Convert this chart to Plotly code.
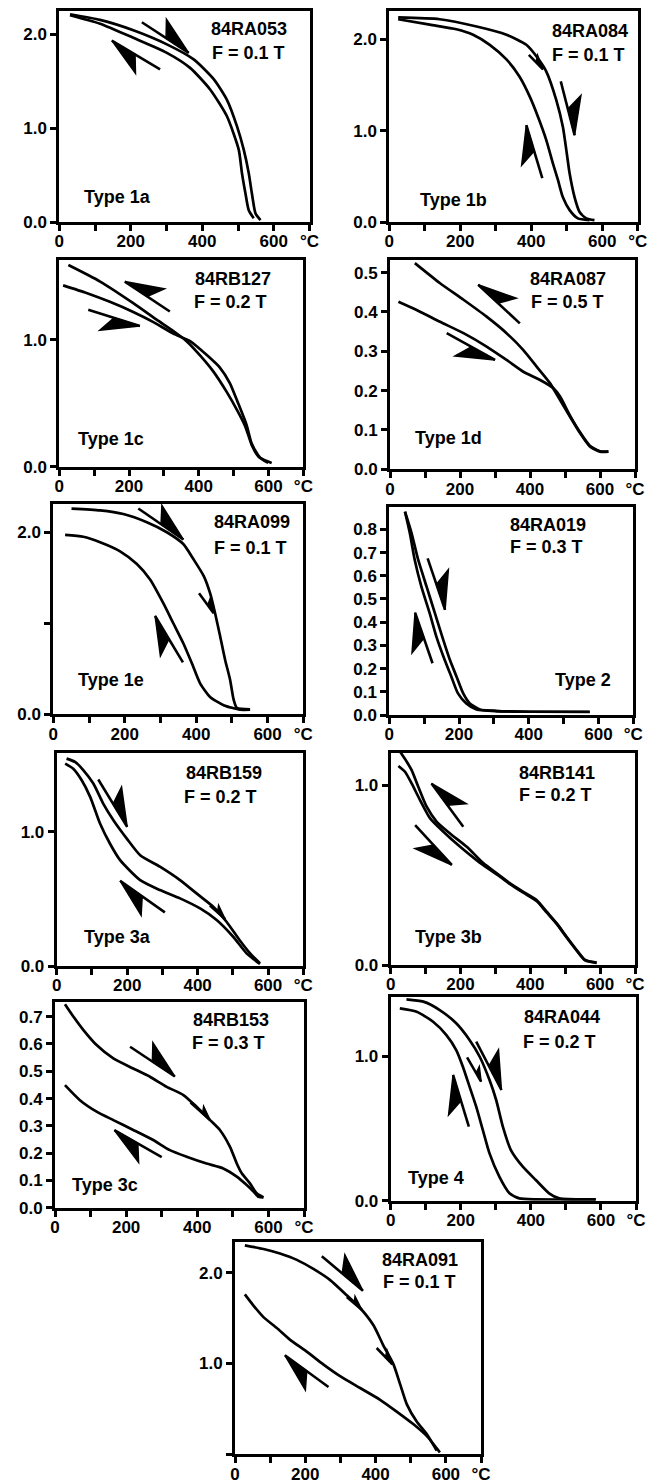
import math
import plotly.graph_objects as go

# ---------------- data (temperature in °C, magnetisation, arbitrary units) ----------------
# Panel 1: 84RA053, F = 0.1 T, Type 1a
p1_heat_T = [30, 114, 207, 301, 376, 432, 469, 497, 516, 530, 539, 549, 563]
p1_heat_M = [2.21, 2.15, 2.04, 1.89, 1.73, 1.52, 1.30, 1.02, 0.77, 0.52, 0.30, 0.09, 0.02]
p1_cool_T = [30, 114, 207, 301, 366, 422, 469, 502, 511, 521, 530, 544]
p1_cool_M = [2.20, 2.11, 1.96, 1.80, 1.64, 1.41, 1.125, 0.77, 0.52, 0.30, 0.125, 0.04]

# Panel 2: 84RA084, F = 0.1 T, Type 1b
p2_heat_T = [25, 142, 246, 330, 386, 419, 442, 470, 489, 500, 508, 522, 536, 555, 578]
p2_heat_M = [2.24, 2.22, 2.14, 2.05, 1.94, 1.79, 1.65, 1.34, 1.04, 0.75, 0.53, 0.27, 0.11, 0.04, 0.02]
p2_cool_T = [25, 114, 189, 236, 283, 330, 367, 396, 419, 442, 461, 475, 489, 508, 531, 564]
p2_cool_M = [2.22, 2.16, 2.11, 2.05, 1.94, 1.78, 1.59, 1.37, 1.15, 0.90, 0.64, 0.46, 0.27, 0.13, 0.04, 0.02]

# Panel 3: 84RB127, F = 0.2 T, Type 1c
p3_heat_T = [11, 78, 145, 212, 270, 327, 375, 423, 461, 489, 513, 537, 552, 576, 609]
p3_heat_M = [1.43, 1.37, 1.30, 1.22, 1.14, 1.05, 0.99, 0.88, 0.78, 0.66, 0.50, 0.33, 0.18, 0.07, 0.03]
p3_cool_T = [26, 117, 212, 279, 327, 365, 403, 442, 480, 509, 533, 552, 571, 599]
p3_cool_M = [1.59, 1.46, 1.29, 1.16, 1.07, 0.99, 0.88, 0.75, 0.59, 0.45, 0.32, 0.17, 0.08, 0.03]

# Panel 4: 84RA087, F = 0.5 T, Type 1d
p4_heat_T = [24, 76, 143, 210, 276, 333, 381, 429, 467, 486, 514, 543, 571, 600, 624]
p4_heat_M = [0.426, 0.405, 0.375, 0.346, 0.312, 0.278, 0.248, 0.227, 0.206, 0.185, 0.137, 0.094, 0.060, 0.046, 0.045]
p4_cool_T = [71, 143, 210, 276, 333, 381, 419, 457, 486, 514, 543, 571, 600, 624]
p4_cool_M = [0.524, 0.473, 0.431, 0.388, 0.346, 0.303, 0.261, 0.219, 0.176, 0.134, 0.092, 0.058, 0.045, 0.045]

# Panel 5: 84RA099, F = 0.1 T, Type 1e
p5_heat_T = [51, 131, 196, 262, 318, 364, 393, 421, 439, 453, 467, 481, 495, 505, 514, 551]
p5_heat_M = [2.26, 2.24, 2.20, 2.11, 2.00, 1.87, 1.70, 1.52, 1.33, 1.11, 0.86, 0.60, 0.38, 0.16, 0.07, 0.055]
p5_cool_T = [33, 84, 131, 187, 234, 271, 308, 336, 364, 388, 411, 439, 477, 523, 551]
p5_cool_M = [1.97, 1.95, 1.89, 1.79, 1.65, 1.48, 1.22, 1.00, 0.78, 0.56, 0.34, 0.19, 0.10, 0.05, 0.05]

# Panel 6: 84RA019, F = 0.3 T, Type 2
p6_heat_T = [45, 64, 83, 107, 131, 155, 174, 193, 212, 231, 260, 308, 403, 575]
p6_heat_M = [0.876, 0.783, 0.668, 0.553, 0.438, 0.323, 0.237, 0.165, 0.093, 0.050, 0.024, 0.017, 0.014, 0.013]
p6_cool_T = [45, 59, 73, 92, 116, 135, 159, 178, 197, 221, 250, 308, 403, 575]
p6_cool_M = [0.876, 0.783, 0.668, 0.553, 0.438, 0.338, 0.237, 0.165, 0.093, 0.050, 0.024, 0.017, 0.014, 0.014]

# Panel 7: 84RB159, F = 0.2 T, Type 3a
p7_heat_T = [28, 52, 76, 104, 132, 161, 199, 237, 293, 350, 397, 445, 482, 520, 549, 577]
p7_heat_M = [1.546, 1.521, 1.459, 1.360, 1.211, 1.087, 0.950, 0.826, 0.740, 0.640, 0.541, 0.440, 0.330, 0.190, 0.094, 0.020]
p7_cool_T = [24, 47, 71, 95, 123, 151, 180, 237, 293, 350, 407, 454, 501, 539, 568, 577]
p7_cool_M = [1.509, 1.471, 1.385, 1.261, 1.062, 0.913, 0.789, 0.640, 0.566, 0.504, 0.429, 0.343, 0.218, 0.094, 0.032, 0.015]

# Panel 8: 84RB141, F = 0.2 T, Type 3b
p8_heat_T = [22, 41, 60, 84, 113, 151, 199, 246, 285, 313, 342, 380, 418, 447, 476, 504, 533, 557, 590]
p8_heat_M = [1.106, 1.074, 1.009, 0.917, 0.815, 0.741, 0.657, 0.583, 0.528, 0.491, 0.450, 0.402, 0.356, 0.292, 0.227, 0.153, 0.080, 0.026, 0.012]
p8_cool_T = [27, 46, 60, 79, 103, 132, 170, 218, 266, 304, 342, 380, 418, 447, 476, 504, 533, 557, 590]
p8_cool_M = [1.185, 1.130, 1.083, 0.991, 0.880, 0.796, 0.731, 0.657, 0.565, 0.509, 0.454, 0.407, 0.361, 0.296, 0.231, 0.157, 0.083, 0.028, 0.013]

# Panel 9: 84RB153, F = 0.3 T, Type 3c
p9_heat_T = [28, 52, 80, 117, 164, 220, 267, 314, 361, 398, 436, 464, 492, 511, 525, 548, 567, 586]
p9_heat_M = [0.746, 0.700, 0.651, 0.596, 0.547, 0.510, 0.480, 0.443, 0.413, 0.370, 0.321, 0.284, 0.223, 0.162, 0.126, 0.089, 0.053, 0.038]
p9_cool_T = [28, 70, 117, 164, 220, 276, 323, 370, 426, 473, 511, 539, 558, 572, 586]
p9_cool_M = [0.449, 0.394, 0.352, 0.321, 0.285, 0.248, 0.211, 0.187, 0.162, 0.144, 0.114, 0.083, 0.059, 0.040, 0.038]

# Panel 10: 84RA044, F = 0.2 T, Type 4
p10_heat_T = [45, 93, 140, 187, 225, 254, 282, 301, 320, 343, 377, 414, 452, 481, 585]
p10_heat_M = [1.392, 1.376, 1.318, 1.226, 1.111, 0.995, 0.834, 0.696, 0.512, 0.350, 0.235, 0.143, 0.051, 0.016, 0.009]
p10_cool_T = [26, 74, 121, 159, 187, 206, 225, 244, 263, 282, 310, 339, 367, 414, 585]
p10_cool_M = [1.329, 1.306, 1.237, 1.145, 1.041, 0.926, 0.788, 0.650, 0.488, 0.327, 0.166, 0.051, 0.016, 0.009, 0.009]

# Panel 11: 84RA091, F = 0.1 T
p11_heat_T = [28, 81, 128, 176, 223, 270, 318, 356, 394, 422, 451, 470, 489, 517, 546, 574]
p11_heat_M = [2.30, 2.26, 2.21, 2.14, 2.04, 1.92, 1.75, 1.61, 1.42, 1.20, 0.99, 0.77, 0.55, 0.36, 0.22, 0.04]
p11_cool_T = [28, 52, 81, 119, 157, 204, 251, 299, 356, 413, 460, 508, 546, 569, 583]
p11_cool_M = [1.76, 1.64, 1.51, 1.39, 1.26, 1.13, 0.99, 0.86, 0.73, 0.60, 0.47, 0.33, 0.20, 0.09, 0.02]

sample_names = ["84RA053", "84RA084", "84RB127", "84RA087", "84RA099", "84RA019",
                "84RB159", "84RB141", "84RB153", "84RA044", "84RA091"]
field_labels = ["F = 0.1 T", "F = 0.1 T", "F = 0.2 T", "F = 0.5 T", "F = 0.1 T", "F = 0.3 T",
                "F = 0.2 T", "F = 0.2 T", "F = 0.3 T", "F = 0.2 T", "F = 0.1 T"]
type_labels = ["Type 1a", "Type 1b", "Type 1c", "Type 1d", "Type 1e", "Type 2",
               "Type 3a", "Type 3b", "Type 3c", "Type 4", ""]

x_tick_vals = [0, 100, 200, 300, 400, 500, 600, 700]
x_tick_text = ["0", "", "200", "", "400", "", "600", "°C"]

curves = {
    1: [(p1_heat_T, p1_heat_M), (p1_cool_T, p1_cool_M)],
    2: [(p2_heat_T, p2_heat_M), (p2_cool_T, p2_cool_M)],
    3: [(p3_heat_T, p3_heat_M), (p3_cool_T, p3_cool_M)],
    4: [(p4_heat_T, p4_heat_M), (p4_cool_T, p4_cool_M)],
    5: [(p5_heat_T, p5_heat_M), (p5_cool_T, p5_cool_M)],
    6: [(p6_heat_T, p6_heat_M), (p6_cool_T, p6_cool_M)],
    7: [(p7_heat_T, p7_heat_M), (p7_cool_T, p7_cool_M)],
    8: [(p8_heat_T, p8_heat_M), (p8_cool_T, p8_cool_M)],
    9: [(p9_heat_T, p9_heat_M), (p9_cool_T, p9_cool_M)],
    10: [(p10_heat_T, p10_heat_M), (p10_cool_T, p10_cool_M)],
    11: [(p11_heat_T, p11_heat_M), (p11_cool_T, p11_cool_M)],
}

y_ticks = {
    1: ([0, 1, 2], ["0.0", "1.0", "2.0"]),
    2: ([0, 1, 2], ["0.0", "1.0", "2.0"]),
    3: ([0, 1], ["0.0", "1.0"]),
    4: ([0, 0.1, 0.2, 0.3, 0.4, 0.5], ["0.0", "0.1", "0.2", "0.3", "0.4", "0.5"]),
    5: ([0, 1, 2], ["0.0", "", "2.0"]),
    6: ([0, 0.1, 0.2, 0.3, 0.4, 0.5, 0.6, 0.7, 0.8], ["0.0", "0.1", "0.2", "0.3", "0.4", "0.5", "0.6", "0.7", "0.8"]),
    7: ([0, 1], ["0.0", "1.0"]),
    8: ([0, 1], ["0.0", "1.0"]),
    9: ([0, 0.1, 0.2, 0.3, 0.4, 0.5, 0.6, 0.7], ["0.0", "0.1", "0.2", "0.3", "0.4", "0.5", "0.6", "0.7"]),
    10: ([0, 1], ["0.0", "1.0"]),
    11: ([0, 1, 2], ["", "1.0", "2.0"]),
}

# ---------------- layout geometry (pixels) ----------------
W, H = 658, 1483
BOX = {  # left, top, right, bottom
    1: (59.3, 11, 309.5, 222),
    2: (389.3, 11, 637.8, 222),
    3: (59.3, 260, 303.4, 466.7),
    4: (390.0, 260, 635.0, 469.3),
    5: (53.3, 504, 303.3, 714.3),
    6: (389.3, 507.3, 633.3, 715),
    7: (56.7, 752.7, 303.3, 966),
    8: (390.7, 752.7, 635.0, 965),
    9: (55.0, 1001.7, 304.0, 1207.7),
    10: (390.7, 996.7, 636.0, 1200.7),
    11: (235.0, 1241.7, 481.0, 1454.3),
}
YMAX = {1: 2.245, 2: 2.31, 3: 1.63, 4: 0.532, 5: 2.31, 6: 0.895, 7: 1.59,
        8: 1.18, 9: 0.755, 10: 1.41, 11: 2.34}
XMAX = 700

# text positions (data coords): name(x,y), F(x,y), type(x,y,anchor)
text_pos = {
    1: ((531, 2.05), (529, 1.80), (63, 0.27, "left")),
    2: ((564, 2.09), (560, 1.83), (82, 0.24, "left")),
    3: ((499, 1.48), (491, 1.30), (48, 0.22, "left")),
    4: ((509, 0.483), (507, 0.424), (65, 0.079, "left")),
    5: ((557, 2.11), (551, 1.83), (64, 0.38, "left")),
    6: ((456, 0.819), (451, 0.726), (556, 0.151, "center")),
    7: ((475, 1.44), (466, 1.26), (71, 0.218, "left")),
    8: ((476, 1.069), (471, 0.944), (65, 0.157, "left")),
    9: ((494, 0.687), (488, 0.602), (42, 0.083, "left")),
    10: ((488, 1.272), (481, 1.099), (45, 0.154, "left")),
    11: ((527, 2.14), (525, 1.90), (0, 0, "left")),
}

# direction arrows: panel, tail T, tail M, tip T, tip M, barb side, size
arrows = [
    (1, 231, 2.125, 362, 1.80, 1, "L"), (1, 282, 1.625, 147, 1.93, 1, "L"),
    (2, 483, 1.54, 522, 0.95, 1, "L"), (2, 431, 0.48, 386, 1.06, 1, "L"), (2, 393, 1.83, 433, 1.67, 1, "S"),
    (3, 317, 1.224, 188, 1.46, -1, "L"), (3, 83, 1.237, 231, 1.11, -1, "L"),
    (4, 371, 0.371, 252, 0.469, -1, "L"), (4, 162, 0.346, 300, 0.278, -1, "L"),
    (5, 238, 2.26, 364, 1.92, 1, "L"), (5, 363, 0.57, 285, 1.08, 1, "L"), (5, 408, 1.33, 449, 1.11, 1, "S"),
    (6, 110, 0.675, 160, 0.453, 1, "L"), (6, 124, 0.223, 74, 0.441, 1, "L"),
    (7, 118, 1.39, 200, 1.037, 1, "L"), (7, 307, 0.40, 180, 0.635, 1, "L"), (7, 435, 0.45, 478, 0.35, 1, "S"),
    (8, 208, 0.769, 117, 1.009, -1, "L"), (8, 70, 0.778, 175, 0.556, -1, "L"),
    (9, 211, 0.590, 337, 0.481, 1, "L"), (9, 300, 0.185, 167, 0.284, 1, "L"), (9, 381, 0.385, 436, 0.321, 1, "S"),
    (10, 244, 1.099, 316, 0.765, 1, "L"), (10, 223, 0.512, 178, 0.869, 1, "L"), (10, 218, 0.991, 258, 0.823, 1, "S"),
    (11, 247, 2.18, 364, 1.80, 1, "L"), (11, 266, 0.74, 142, 1.09, 1, "L"),
    (11, 318, 1.73, 361, 1.59, 1, "S"), (11, 403, 1.17, 448, 0.99, 1, "S"),
]

FONT = "Liberation Sans, Arial, Helvetica, sans-serif"


def to_px(i, x, y):
    l, t, r, b = BOX[i]
    return l + x / XMAX * (r - l), b - y / YMAX[i] * (b - t)


def to_data(i, px, py):
    l, t, r, b = BOX[i]
    return (px - l) / (r - l) * XMAX, (b - py) / (b - t) * YMAX[i]


fig = go.Figure()
shapes = []
annotations = []

for i in range(1, 12):
    xa = "x" if i == 1 else f"x{i}"
    ya = "y" if i == 1 else f"y{i}"
    for T, M in curves[i]:
        fig.add_trace(go.Scatter(x=T, y=M, xaxis=xa, yaxis=ya, mode="lines",
                                 line=dict(color="black", width=2.7, shape="spline", smoothing=0.6),
                                 hoverinfo="skip", showlegend=False))
    l, t, r, b = BOX[i]
    axstyle = dict(showline=True, linewidth=3, linecolor="black", mirror=True,
                   ticks="outside", ticklen=6, tickwidth=2.5, tickcolor="black",
                   showgrid=False, zeroline=False,
                   tickfont=dict(family=FONT, size=17, color="black", weight="bold"))
    xkey = "xaxis" if i == 1 else f"xaxis{i}"
    ykey = "yaxis" if i == 1 else f"yaxis{i}"
    fig.layout[xkey] = dict(domain=[l / W, r / W], anchor=ya, range=[0, XMAX],
                            tickmode="array", tickvals=x_tick_vals, ticktext=x_tick_text,
                            ticklabelstandoff=-4, **axstyle)
    fig.layout[ykey] = dict(domain=[1 - b / H, 1 - t / H], anchor=xa, range=[0, YMAX[i]],
                            tickmode="array", tickvals=y_ticks[i][0], ticktext=y_ticks[i][1], **axstyle)

    (nx_, ny_), (fx_, fy_), (tx_, ty_, tanchor) = text_pos[i]
    lab_font = dict(family=FONT, size=18, color="black", weight="bold")
    annotations.append(dict(x=nx_, y=ny_, xref=xa, yref=ya, text=sample_names[i - 1],
                            showarrow=False, xanchor="center", yanchor="middle", font=lab_font))
    annotations.append(dict(x=fx_, y=fy_, xref=xa, yref=ya, text=field_labels[i - 1],
                            showarrow=False, xanchor="center", yanchor="middle", font=lab_font))
    if type_labels[i - 1]:
        annotations.append(dict(x=tx_, y=ty_, xref=xa, yref=ya, text=type_labels[i - 1],
                                showarrow=False, xanchor=tanchor, yanchor="middle", font=lab_font))

for (i, x0, y0, x1, y1, side, size) in arrows:
    xa = "x" if i == 1 else f"x{i}"
    ya = "y" if i == 1 else f"y{i}"
    sx, sy = to_px(i, x0, y0)
    tx, ty = to_px(i, x1, y1)
    dx, dy = sx - tx, sy - ty
    L = math.hypot(dx, dy)
    ux, uy = dx / L, dy / L          # from tip towards tail
    nx, ny = -uy, ux                 # left-hand side of travel (screen coords)
    if size == "L":
        hb, hr, w, lw = 27, 37, 16, 2.6
    else:
        hb, hr, w, lw = 10, 14, 6, 2.6
    base = (tx + ux * hb, ty + uy * hb)
    barb = (tx + ux * hr + side * nx * w, ty + uy * hr + side * ny * w)
    pts = [to_data(i, tx, ty), to_data(i, *base), to_data(i, *barb)]
    path = "M {} {} L {} {} L {} {} Z".format(pts[0][0], pts[0][1], pts[1][0], pts[1][1], pts[2][0], pts[2][1])
    shapes.append(dict(type="path", path=path, xref=xa, yref=ya, fillcolor="black",
                       line=dict(color="black", width=1.5)))
    shapes.append(dict(type="line", x0=x0, y0=y0, x1=x1, y1=y1, xref=xa, yref=ya,
                       line=dict(color="black", width=lw)))

fig.update_layout(width=W, height=H, margin=dict(l=0, r=0, t=0, b=0, autoexpand=False),
                  paper_bgcolor="white", plot_bgcolor="white",
                  shapes=shapes, annotations=annotations, showlegend=False)

fig.write_html("out.html")
